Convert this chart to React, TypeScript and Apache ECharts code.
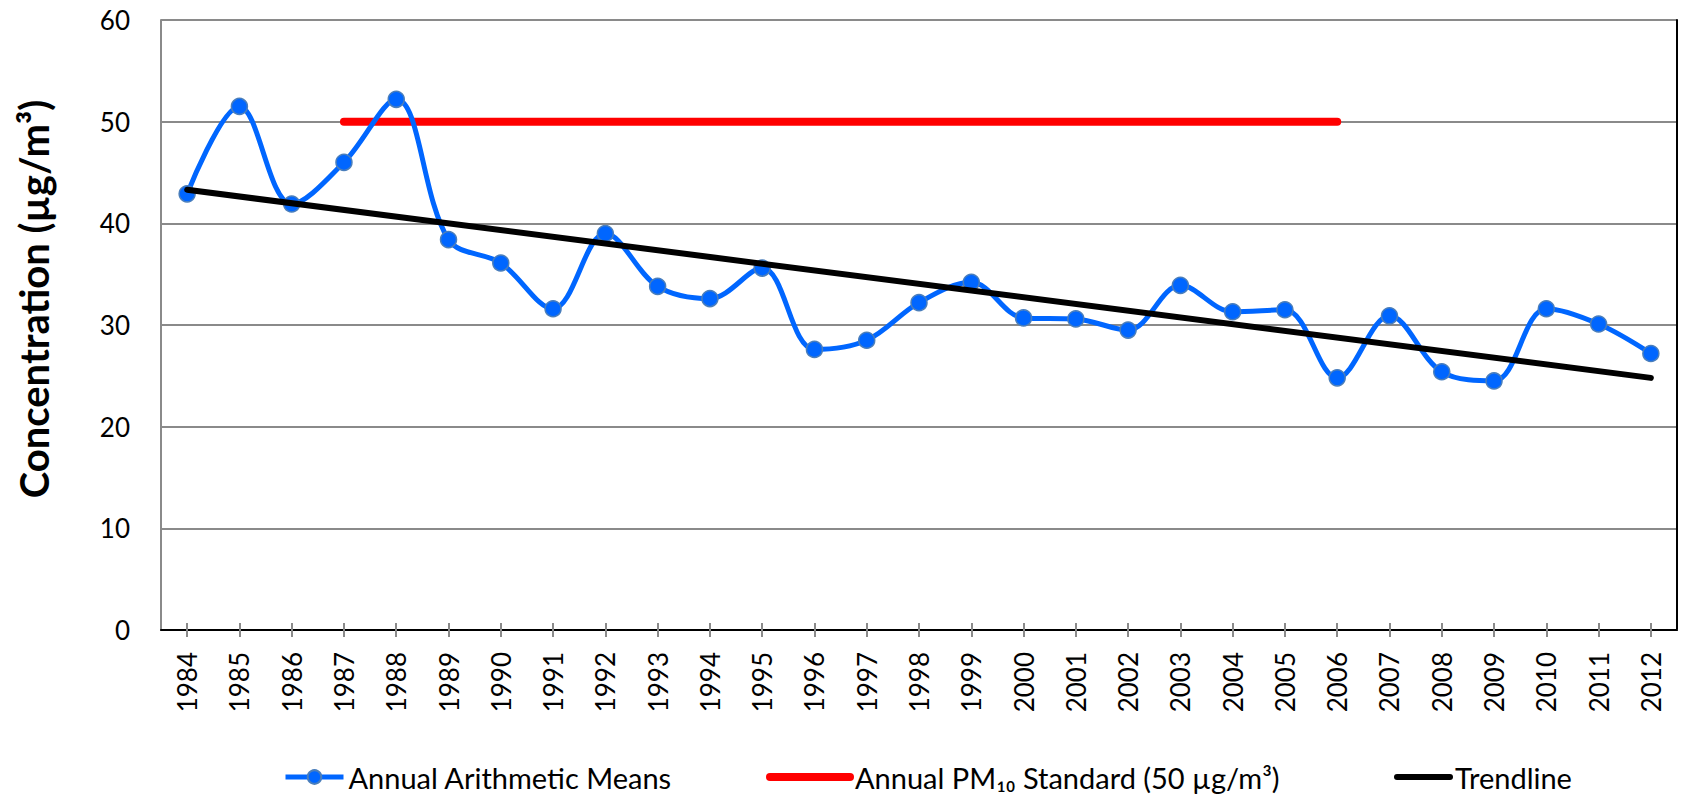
import React, { useEffect, useRef } from "react";
import * as echarts from "echarts";

const years = [
  "1984", "1985", "1986", "1987", "1988", "1989", "1990", "1991", "1992", "1993",
  "1994", "1995", "1996", "1997", "1998", "1999", "2000", "2001", "2002", "2003",
  "2004", "2005", "2006", "2007", "2008", "2009", "2010", "2011", "2012",
];
const annualMeans = [
  42.9, 51.5, 41.9, 46.0, 52.2, 38.4, 36.1, 31.6, 39.0, 33.8,
  32.6, 35.6, 27.6, 28.5, 32.2, 34.2, 30.7, 30.6, 29.5, 33.9,
  31.3, 31.5, 24.8, 30.9, 25.4, 24.5, 31.6, 30.1, 27.2,
];
const standardValue = 50;
const standardStart = "1987";
const standardEnd = "2006";
const trendStartYear = "1984";
const trendStartValue = 43.3;
const trendEndYear = "2012";
const trendEndValue = 24.8;
const yTicks = [0, 10, 20, 30, 40, 50, 60];

const FONT = "Lato, 'Noto Sans', 'DejaVu Sans', sans-serif";
const GRAY = "#8a8a8a";

export default function App() {
  const ref = useRef<HTMLDivElement>(null);
  useEffect(() => {
    document.body.style.margin = "0";
    if (!ref.current) return;
    const chart = echarts.init(ref.current, undefined, { renderer: "svg" });
    const names = [
      "Annual Arithmetic Means",
      "Annual PM\u2081\u2080 Standard (50 \u00b5g/m\u00b3)",
      "Trendline",
    ];
    const legendText = { fontFamily: FONT, fontSize: 29, color: "#000", lineHeight: 32 };
    chart.setOption({
      animation: false,
      backgroundColor: "#fff",
      grid: { left: 161, right: 4, top: 20, bottom: 164 },
      legend: [
        {
          data: [names[0]], left: 283, top: 761, itemWidth: 58, itemHeight: 17, padding: 0,
          textStyle: legendText, selectedMode: false,
          lineStyle: { width: 5, color: "#0066ff" },
        },
        {
          data: [names[1]], left: 766, top: 761, itemWidth: 80, itemHeight: 17, padding: 0,
          textStyle: legendText, selectedMode: false,
          itemStyle: { opacity: 0 },
          lineStyle: { width: 8, color: "#ff0000", cap: "round" },
        },
        {
          data: [names[2]], left: 1394, top: 761, itemWidth: 53, itemHeight: 17, padding: 0,
          textStyle: legendText, selectedMode: false,
          itemStyle: { opacity: 0 },
          lineStyle: { width: 6, color: "#000", cap: "round" },
        },
      ],
      xAxis: [
        {
          type: "category",
          data: years,
          position: "bottom",
          boundaryGap: true,
          axisLine: { lineStyle: { color: GRAY, width: 2 } },
          axisTick: { show: true, alignWithLabel: true, length: 7, lineStyle: { color: GRAY, width: 2 } },
          axisLabel: { rotate: 90, margin: 22, fontFamily: FONT, fontSize: 26, color: "#000", interval: 0 },
          splitLine: { show: false },
        },
        {
          type: "category",
          data: years,
          position: "top",
          boundaryGap: true,
          axisLine: { lineStyle: { color: "#000", width: 2 } },
          axisTick: { show: false },
          axisLabel: { show: false },
        },
        {
          type: "category",
          data: years,
          position: "bottom",
          boundaryGap: true,
          axisLine: { show: false },
          axisTick: { show: true, inside: true, alignWithLabel: true, length: 7, lineStyle: { color: GRAY, width: 2 } },
          axisLabel: { show: false },
        },
      ],
      yAxis: [
        {
          type: "value",
          min: yTicks[0],
          max: yTicks[yTicks.length - 1],
          interval: 10,
          axisLine: { show: true, lineStyle: { color: GRAY, width: 2 } },
          axisTick: { show: false },
          axisLabel: { margin: 31, fontFamily: FONT, fontSize: 26, color: "#000" },
          splitLine: { lineStyle: { color: GRAY, width: 2 } },
        },
        {
          type: "value",
          position: "right",
          min: yTicks[0],
          max: yTicks[yTicks.length - 1],
          interval: 10,
          axisLine: { show: true, lineStyle: { color: "#000", width: 2 } },
          axisTick: { show: false },
          axisLabel: { show: false },
          splitLine: { show: false },
        },
      ],
      graphic: [
        {
          type: "text",
          x: 34,
          y: 299,
          rotation: Math.PI / 2,
          style: {
            text: "Concentration (\u00b5g/m\u00b3)",
            fontFamily: FONT,
            fontSize: 40,
            fontWeight: "bold",
            fill: "#000",
            align: "center",
            verticalAlign: "middle",
          },
        },
      ],
      series: [
        {
          name: names[1],
          type: "line",
          data: [[standardStart, standardValue], [standardEnd, standardValue]],
          symbol: "none",
          lineStyle: { color: "#ff0000", width: 8, cap: "round" },
          itemStyle: { color: "#ff0000" },
          z: 2,
        },
        {
          name: names[0],
          type: "line",
          data: annualMeans,
          smooth: 0.35,
          symbol: "circle",
          symbolSize: 16,
          lineStyle: { color: "#0066ff", width: 5 },
          itemStyle: { color: "#0066ff", borderColor: "#4a7ebb", borderWidth: 1.5 },
          z: 3,
        },
        {
          name: names[2],
          type: "line",
          data: [[trendStartYear, trendStartValue], [trendEndYear, trendEndValue]],
          symbol: "none",
          lineStyle: { color: "#000", width: 6, cap: "round" },
          itemStyle: { color: "#000" },
          z: 4,
        },
      ],
    });
    return () => chart.dispose();
  }, []);
  return <div ref={ref} style={{ width: 1681, height: 794 }} />;
}
